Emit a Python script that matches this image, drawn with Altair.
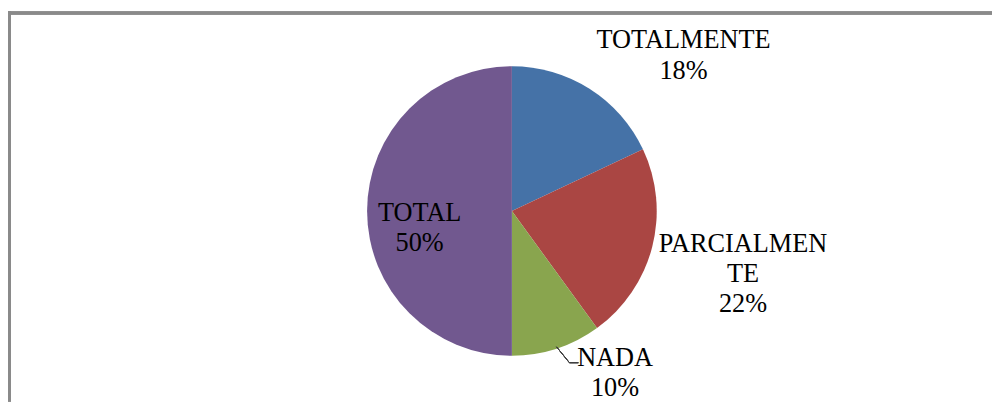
import altair as alt
import pandas as pd

categories = ["TOTALMENTE", "PARCIALMENTE", "NADA", "TOTAL"]
values = [18, 22, 10, 50]
label_texts = ["TOTALMENTE\n18%", "PARCIALMEN\nTE\n22%", "NADA\n10%", "TOTAL\n50%"]
colors = ["#4572A7", "#AA4643", "#89A54E", "#71588F"]

df = pd.DataFrame({
    "cat": categories,
    "val": values,
    "label": label_texts,
    "order": list(range(len(categories))),
})

W, H = 992, 395
CX, CY, R = 508, 203, 146

pie = alt.Chart(df).mark_arc(radius=R, stroke=None).encode(
    theta=alt.Theta("val:Q", stack=True),
    order=alt.Order("order:Q"),
    color=alt.Color("cat:N", scale=alt.Scale(domain=categories, range=colors), legend=None),
    x=alt.value(CX),
    y=alt.value(CY),
)

# label anchor positions (annotation placement, canvas px)
label_pos = {
    "TOTALMENTE": (681, 31),
    "PARCIALMENTE": (741, 236),
    "NADA": (612, 351),
    "TOTAL": (415, 205),
}

texts = []
for c in categories:
    px, py = label_pos[c]
    texts.append(
        alt.Chart(df).transform_filter(alt.datum.cat == c).mark_text(
            font="Liberation Serif", fontSize=26.5, color="#000000",
            lineBreak="\n", lineHeight=30.5, align="center", baseline="middle",
        ).encode(text="label:N", x=alt.value(px), y=alt.value(py))
    )

frame_top = alt.Chart(df).mark_rule(color="#8a8a8a", strokeWidth=3).encode(
    x=alt.value(0), x2=alt.value(W), y=alt.value(3.5)
)
frame_left = alt.Chart(df).mark_rule(color="#8a8a8a", strokeWidth=3).encode(
    x=alt.value(1.5), y=alt.value(2), y2=alt.value(H)
)

leader1 = alt.Chart(df).mark_rule(color="#404040", strokeWidth=1).encode(
    x=alt.value(553), y=alt.value(340), x2=alt.value(566), y2=alt.value(356)
)
leader2 = alt.Chart(df).mark_rule(color="#404040", strokeWidth=1).encode(
    x=alt.value(566), y=alt.value(356), x2=alt.value(575), y2=alt.value(356)
)

chart = alt.layer(pie, *texts, leader1, leader2, frame_top, frame_left).properties(
    width=W, height=H, padding=0, autosize=alt.AutoSizeParams(type="none"),
    background="white",
).configure_view(stroke=None)

chart.save("out.html", embed_options={"renderer": "svg", "actions": False})
